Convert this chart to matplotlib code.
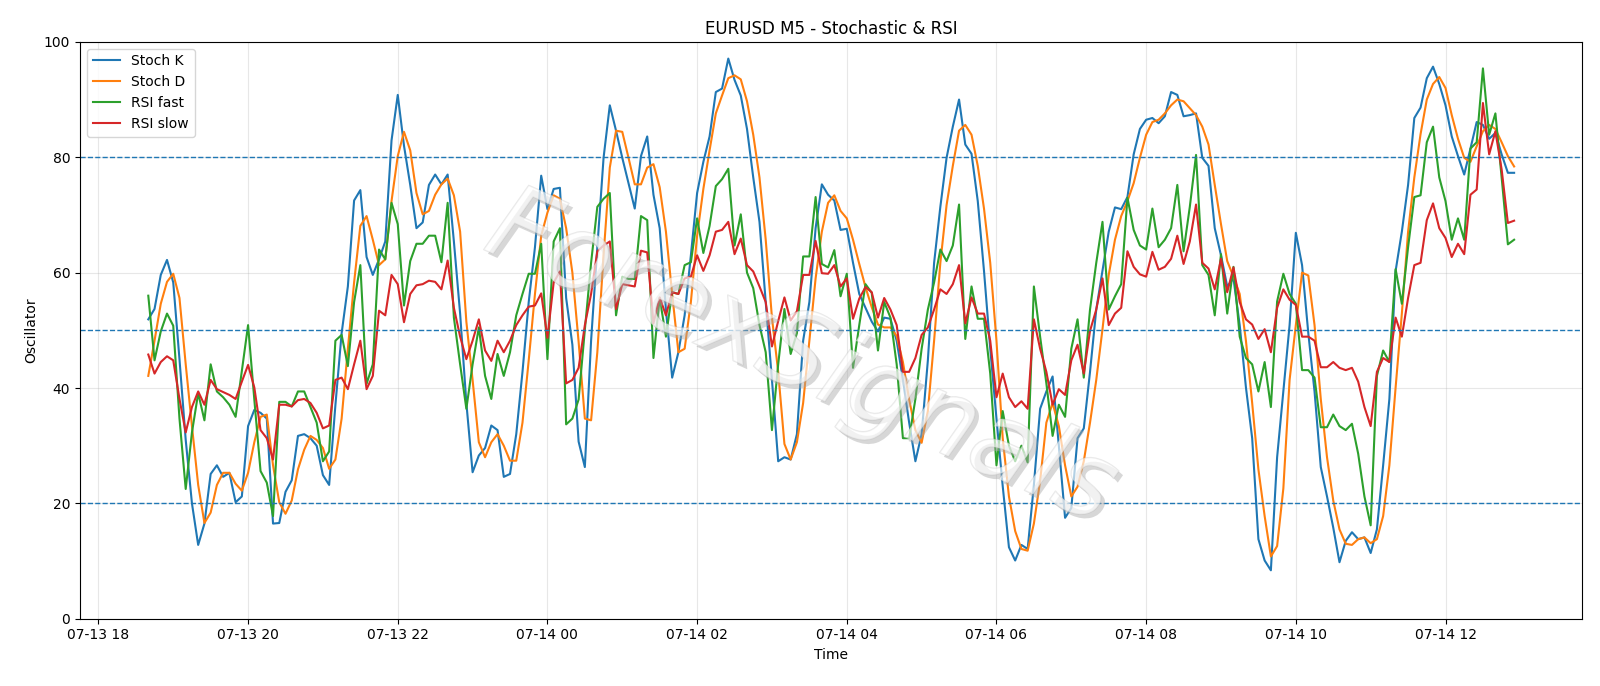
import pandas as pd
import matplotlib
matplotlib.use("Agg")
import matplotlib.pyplot as plt
import matplotlib.dates as mdates
import matplotlib.patheffects as pe

# 5-minute bars, 07-13 18:40 .. 07-14 12:55
times = pd.date_range("2024-07-13 18:40", periods=220, freq="5min")

stoch_k = [
    51.9, 53.7, 59.6, 62.2, 58.3, 45.0, 31.0, 20.0, 12.8, 16.5,
    25.1, 26.6, 24.6, 25.3, 20.2, 21.2, 33.4, 36.2, 35.7, 34.7,
    16.5, 16.6, 22.0, 24.0, 31.7, 32.0, 31.3, 30.0, 24.9, 23.2,
    37.0, 49.5, 57.6, 72.5, 74.3, 62.7, 59.6, 62.3, 65.4, 82.9,
    90.8, 82.0, 75.2, 67.7, 68.7, 75.2, 77.0, 75.3, 77.0, 65.4,
    52.9, 37.4, 25.4, 28.3, 29.6, 33.5, 32.7, 24.6, 25.1, 32.0,
    42.8, 54.9, 64.4, 76.8, 71.0, 74.5, 74.7, 55.6, 47.5, 30.7,
    26.3, 48.2, 64.4, 79.9, 89.0, 84.6, 79.9, 75.5, 71.1, 80.2,
    83.6, 73.5, 67.7, 53.6, 41.8, 46.2, 52.6, 63.0, 73.8, 79.2,
    83.6, 91.3, 91.9, 97.1, 93.4, 90.7, 84.9, 76.5, 68.8, 54.9,
    41.4, 27.3, 28.0, 27.6, 32.0, 48.2, 54.9, 67.7, 75.3, 73.5,
    72.5, 67.4, 67.6, 61.7, 56.3, 53.9, 51.5, 49.8, 52.2, 52.0,
    48.2, 41.4, 34.0, 27.3, 32.0, 44.8, 61.7, 71.4, 79.9, 85.3,
    90.0, 82.2, 80.6, 72.4, 60.3, 46.8, 34.7, 23.0, 12.4, 10.1,
    12.8, 12.1, 23.2, 36.4, 39.4, 42.0, 30.0, 17.5, 19.2, 31.3,
    33.0, 42.8, 53.6, 60.3, 67.1, 71.3, 71.0, 73.1, 80.5, 84.9,
    86.5, 86.8, 85.9, 87.1, 91.3, 90.8, 87.1, 87.3, 87.6, 79.9,
    78.5, 67.7, 63.0, 57.6, 59.0, 50.9, 40.1, 31.3, 13.8, 10.1,
    8.4, 28.0, 39.4, 50.9, 66.9, 61.3, 49.5, 39.4, 26.3, 21.2,
    15.8, 9.8, 13.5, 15.0, 13.8, 14.1, 11.4, 15.5, 26.6, 38.1,
    60.3, 67.1, 75.2, 86.8, 88.6, 93.7, 95.7, 92.7, 89.0, 83.6,
    80.2, 77.0, 81.5, 86.1, 85.6, 83.2, 84.2, 80.5, 77.3, 77.3,
]

stoch_d = [
    42.1, 48.2, 54.6, 58.4, 59.8, 55.6, 44.1, 33.4, 23.2, 16.6,
    18.4, 23.2, 25.3, 25.3, 23.4, 22.2, 25.3, 30.6, 35.0, 35.4,
    26.6, 20.2, 18.2, 20.5, 25.9, 29.3, 31.7, 31.0, 29.6, 26.0,
    27.6, 34.7, 46.8, 58.3, 68.1, 69.8, 65.7, 61.3, 62.3, 72.4,
    80.2, 84.4, 81.2, 73.8, 70.1, 70.7, 73.5, 75.3, 76.3, 73.4,
    67.1, 51.5, 41.4, 30.6, 28.0, 30.6, 32.0, 30.0, 27.4, 27.4,
    34.0, 44.8, 56.3, 66.4, 70.4, 73.4, 72.8, 67.7, 60.0, 48.0,
    34.7, 34.4, 46.2, 63.0, 78.2, 84.6, 84.4, 79.9, 75.3, 75.3,
    78.2, 78.8, 74.8, 67.1, 56.3, 46.2, 46.8, 54.9, 66.4, 74.5,
    81.2, 87.6, 90.7, 93.7, 94.2, 93.5, 89.7, 83.9, 76.5, 65.7,
    52.2, 42.8, 30.3, 27.6, 30.6, 37.4, 48.2, 59.0, 67.1, 72.1,
    73.4, 70.7, 69.4, 65.7, 61.5, 57.5, 54.0, 51.0, 50.5, 50.5,
    49.0, 44.5, 38.0, 32.7, 30.5, 36.0, 48.2, 61.7, 71.7, 78.5,
    84.6, 85.6, 83.9, 78.5, 71.1, 61.7, 48.2, 31.3, 21.2, 15.2,
    12.1, 11.8, 16.5, 23.9, 34.0, 37.4, 33.4, 26.6, 21.2, 22.9,
    27.3, 34.0, 41.4, 50.2, 59.6, 65.7, 69.8, 72.4, 75.5, 79.9,
    83.9, 86.1, 86.5, 87.6, 89.0, 90.0, 89.7, 88.5, 87.3, 85.3,
    82.2, 75.2, 68.4, 62.0, 59.3, 56.3, 48.2, 37.4, 25.9, 17.8,
    10.8, 12.6, 22.6, 41.4, 50.9, 60.0, 59.5, 50.9, 38.1, 28.0,
    20.5, 15.5, 13.0, 12.8, 13.8, 14.1, 13.1, 13.8, 17.8, 26.6,
    40.1, 52.9, 67.1, 76.5, 84.0, 90.0, 92.7, 93.9, 92.0, 87.3,
    83.2, 79.9, 79.2, 81.9, 84.5, 85.6, 84.9, 82.6, 80.2, 78.4,
]

rsi_fast = [
    56.0, 44.8, 49.8, 52.9, 50.8, 34.7, 22.5, 32.3, 39.1, 34.4,
    44.1, 39.4, 38.4, 37.1, 35.0, 43.0, 50.9, 38.0, 25.6, 23.6,
    17.8, 37.6, 37.6, 36.8, 39.4, 39.4, 36.7, 34.0, 27.3, 29.0,
    48.2, 49.2, 43.8, 54.9, 61.3, 40.7, 44.1, 64.0, 62.3, 72.1,
    68.4, 54.3, 62.0, 65.0, 65.0, 66.4, 66.4, 61.8, 72.1, 52.2,
    44.1, 36.4, 44.1, 50.5, 42.1, 38.1, 45.9, 42.1, 46.2, 52.6,
    56.3, 59.8, 59.8, 65.0, 45.0, 65.4, 67.7, 33.7, 34.7, 38.0,
    50.1, 61.7, 71.4, 72.8, 73.8, 52.6, 59.3, 58.9, 58.9, 69.8,
    69.1, 45.2, 55.6, 48.9, 56.6, 56.3, 61.3, 61.8, 69.4, 63.4,
    68.1, 75.0, 76.2, 78.0, 64.7, 70.1, 60.0, 57.3, 50.9, 46.2,
    32.7, 44.1, 53.7, 45.9, 49.5, 62.8, 62.8, 73.1, 61.5, 60.9,
    63.9, 55.9, 59.8, 43.5, 50.9, 58.0, 56.5, 46.5, 54.9, 52.2,
    44.1, 31.3, 31.3, 38.1, 46.8, 53.6, 58.3, 64.0, 62.0, 64.7,
    71.8, 48.5, 57.6, 52.0, 52.0, 42.5, 26.6, 36.0, 30.0, 27.3,
    30.0, 27.1, 57.6, 48.9, 40.8, 31.7, 37.1, 35.0, 46.8, 51.9,
    41.8, 53.6, 61.7, 68.8, 53.6, 55.9, 58.0, 73.0, 67.4, 64.7,
    64.0, 71.1, 64.4, 65.7, 67.7, 75.2, 63.7, 71.4, 80.4, 61.3,
    59.6, 52.6, 63.2, 52.9, 61.0, 48.9, 45.2, 44.1, 39.4, 44.5,
    36.7, 55.0, 59.8, 56.3, 54.6, 43.1, 43.1, 41.8, 33.2, 33.2,
    35.4, 33.4, 32.7, 33.8, 28.6, 21.2, 16.2, 42.1, 46.5, 44.5,
    60.6, 54.6, 64.4, 73.1, 73.4, 82.6, 85.3, 76.5, 72.4, 65.7,
    69.4, 65.7, 81.5, 82.6, 95.4, 83.9, 87.6, 76.5, 64.9, 65.7,
]

rsi_slow = [
    45.8, 42.5, 44.5, 45.5, 44.8, 38.1, 32.3, 36.7, 39.4, 37.1,
    41.4, 39.8, 39.3, 38.8, 38.1, 41.1, 44.0, 40.1, 32.7, 31.3,
    27.6, 37.1, 37.1, 36.8, 37.9, 38.1, 37.4, 35.7, 33.0, 33.5,
    41.4, 41.8, 39.8, 44.1, 48.2, 39.8, 42.1, 53.4, 52.6, 59.6,
    58.0, 51.4, 56.3, 57.8, 58.0, 58.6, 58.4, 57.1, 62.1, 53.9,
    48.9, 45.0, 48.2, 51.9, 46.5, 44.7, 48.2, 46.2, 48.2, 50.9,
    52.6, 54.1, 54.3, 56.4, 48.7, 58.3, 60.2, 40.8, 41.4, 43.5,
    50.9, 56.3, 63.7, 64.7, 65.4, 53.7, 58.0, 57.8, 57.6, 63.8,
    63.5, 51.2, 55.7, 52.6, 56.6, 56.3, 59.0, 59.3, 63.0, 60.3,
    63.0, 67.1, 67.4, 68.8, 63.2, 65.9, 61.3, 60.2, 57.6, 54.9,
    47.2, 51.6, 55.7, 51.7, 53.3, 59.6, 59.6, 65.5, 59.9, 59.8,
    61.3, 57.6, 59.0, 52.0, 55.5, 57.5, 56.6, 52.2, 55.6, 53.6,
    50.9, 42.8, 42.8, 45.2, 49.2, 50.5, 53.6, 57.1, 56.3, 58.0,
    61.3, 51.2, 55.7, 52.9, 52.9, 48.2, 38.4, 42.5, 38.4, 36.7,
    37.7, 36.4, 51.9, 46.8, 42.8, 37.1, 39.8, 38.8, 44.8, 47.5,
    42.5, 49.9, 53.6, 59.0, 50.9, 52.9, 53.9, 63.7, 61.0, 59.7,
    59.3, 63.6, 60.5, 61.0, 62.4, 66.4, 61.5, 65.4, 71.8, 61.7,
    60.7, 57.1, 62.4, 56.6, 60.9, 54.9, 51.9, 51.0, 48.5, 50.2,
    46.2, 53.9, 57.1, 55.3, 54.4, 48.9, 48.9, 48.2, 43.6, 43.6,
    44.5, 43.5, 43.1, 43.5, 41.1, 36.7, 33.4, 42.8, 45.2, 44.5,
    52.2, 48.9, 55.6, 61.3, 61.7, 69.1, 72.0, 67.7, 66.0, 62.7,
    65.0, 63.2, 73.5, 74.4, 89.4, 80.5, 84.5, 77.9, 68.6, 69.0,
]

levels = [80, 50, 20]

df = pd.DataFrame({"K": stoch_k, "D": stoch_d, "fast": rsi_fast, "slow": rsi_slow}, index=times)

fig, ax = plt.subplots(figsize=(16, 6.86), dpi=100)
fig.subplots_adjust(left=0.05, right=0.989, top=0.939, bottom=0.098)

ax.plot(df.index, df["K"], label="Stoch K", linewidth=1.5)
ax.plot(df.index, df["D"], label="Stoch D", linewidth=1.5)
ax.plot(df.index, df["fast"], label="RSI fast", linewidth=1.5)
ax.plot(df.index, df["slow"], label="RSI slow", linewidth=1.5)

for lvl in levels:
    ax.axhline(lvl, linestyle="--", linewidth=1)

ax.set_ylim(0, 100)
ax.set_title("EURUSD M5 - Stochastic & RSI")
ax.set_xlabel("Time")
ax.set_ylabel("Oscillator")
ax.grid(True, alpha=0.3)
ax.legend(loc="upper left")

ax.xaxis.set_major_locator(mdates.HourLocator(byhour=range(0, 24, 2)))
ax.xaxis.set_major_formatter(mdates.DateFormatter("%m-%d %H"))

# watermark: hollow light letters with a soft grey shadow
ax.text(0.48, 0.45, "ForexSignals", transform=ax.transAxes, fontsize=76,
        rotation=-24, ha="center", va="center", color="white", alpha=0.3,
        fontstyle="italic",
        path_effects=[pe.withSimplePatchShadow(offset=(3, -3), shadow_rgbFace="#a8a8a8", alpha=0.45),
                      pe.withStroke(linewidth=1.0, foreground="#b4b4b4")])

fig.savefig("out.png")
